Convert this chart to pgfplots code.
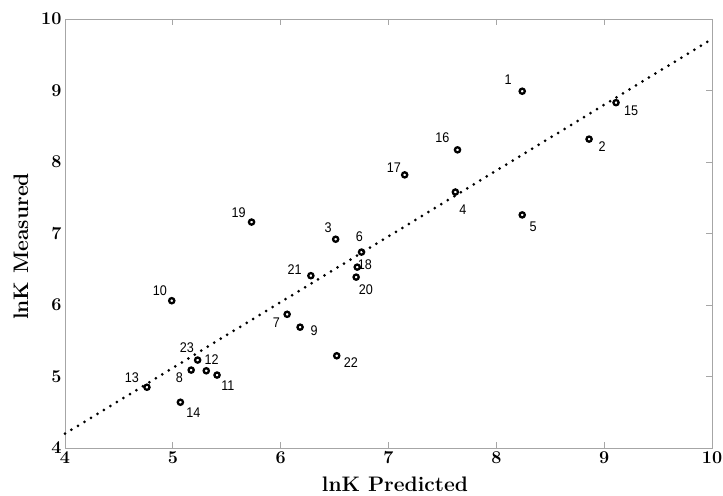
\documentclass[border=0pt]{standalone}
\usepackage{fontspec}
\usepackage{pgfplots}
\pgfplotsset{compat=1.18}
\newfontfamily\lab[FakeStretch=0.9]{Liberation Sans}

\begin{document}
\begin{tikzpicture}
  \begin{axis}[
    name=ax,
    scale only axis,
    width=647pt,
    height=429pt,
    xmin=4, xmax=10,
    ymin=4, ymax=10,
    xtick={4,5,...,10},
    ytick={4,5,...,10},
    ytick pos=right,
    yticklabel pos=left,
    xtick pos=both,
    xticklabel pos=left,
    tick align=inside,
    major tick length=6pt,
    axis line style={draw=gray!70, line width=0.9pt},
    every tick/.style={draw=gray!70, line width=0.9pt},
    /pgf/number format/assume math mode=true,
    tick label style={font=\fontsize{18}{19}\selectfont\bfseries},
    xlabel={lnK Predicted},
    ylabel={lnK Measured},
    every axis x label/.style={at={(rel axis cs:0.51,0)}, anchor=center, yshift=-36pt,
      font=\fontsize{21}{23}\selectfont\bfseries},
    every axis y label/.style={at={(rel axis cs:0,0.47)}, anchor=center, xshift=-44pt, rotate=90,
      font=\fontsize{21}{23}\selectfont\bfseries},
    clip=false
  ]
    % dotted fit line
    \addplot[black, line width=3pt, line cap=round, dash pattern=on 0pt off 7.6pt]
      coordinates {(4,4.2) (10,9.72)};
    % measured vs predicted
    \addplot[only marks, mark=o, mark size=2.6pt, black, line width=2.3pt] coordinates {
      (8.24,8.99) (8.86,8.32) (6.51,6.92) (7.62,7.58) (8.24,7.26)
      (6.75,6.74) (6.06,5.87) (5.17,5.09) (6.18,5.69) (4.99,6.06)
      (5.41,5.02) (5.31,5.08) (4.76,4.85) (5.07,4.64) (9.11,8.83)
      (7.64,8.17) (7.15,7.82) (6.71,6.53) (5.73,7.16) (6.70,6.39)
      (6.28,6.41) (6.52,5.29) (5.23,5.23)
    };
    \begin{scope}[every node/.style={font=\lab\fontsize{14}{15}\selectfont}]
      \node at (axis cs:8.11,9.15) {1};
      \node at (axis cs:8.98,8.21) {2};
      \node at (axis cs:6.44,7.08) {3};
      \node at (axis cs:7.69,7.34) {4};
      \node at (axis cs:8.34,7.09) {5};
      \node at (axis cs:6.73,6.95) {6};
      \node at (axis cs:5.96,5.75) {7};
      \node at (axis cs:5.06,4.99) {8};
      \node at (axis cs:6.31,5.64) {9};
      \node at (axis cs:4.88,6.20) {10};
      \node at (axis cs:5.51,4.87) {11};
      \node at (axis cs:5.36,5.24) {12};
      \node at (axis cs:4.62,4.99) {13};
      \node at (axis cs:5.19,4.49) {14};
      \node at (axis cs:9.25,8.71) {15};
      \node at (axis cs:7.50,8.34) {16};
      \node at (axis cs:7.05,7.92) {17};
      \node at (axis cs:6.78,6.56) {18};
      \node at (axis cs:5.61,7.29) {19};
      \node at (axis cs:6.79,6.22) {20};
      \node at (axis cs:6.13,6.50) {21};
      \node at (axis cs:6.65,5.20) {22};
      \node at (axis cs:5.13,5.41) {23};
    \end{scope}
  \end{axis}
  \pgfresetboundingbox
  \useasboundingbox ([shift={(-65pt,-47pt)}]ax.south west) rectangle ([shift={(11pt,19pt)}]ax.north east);
\end{tikzpicture}
\end{document}
